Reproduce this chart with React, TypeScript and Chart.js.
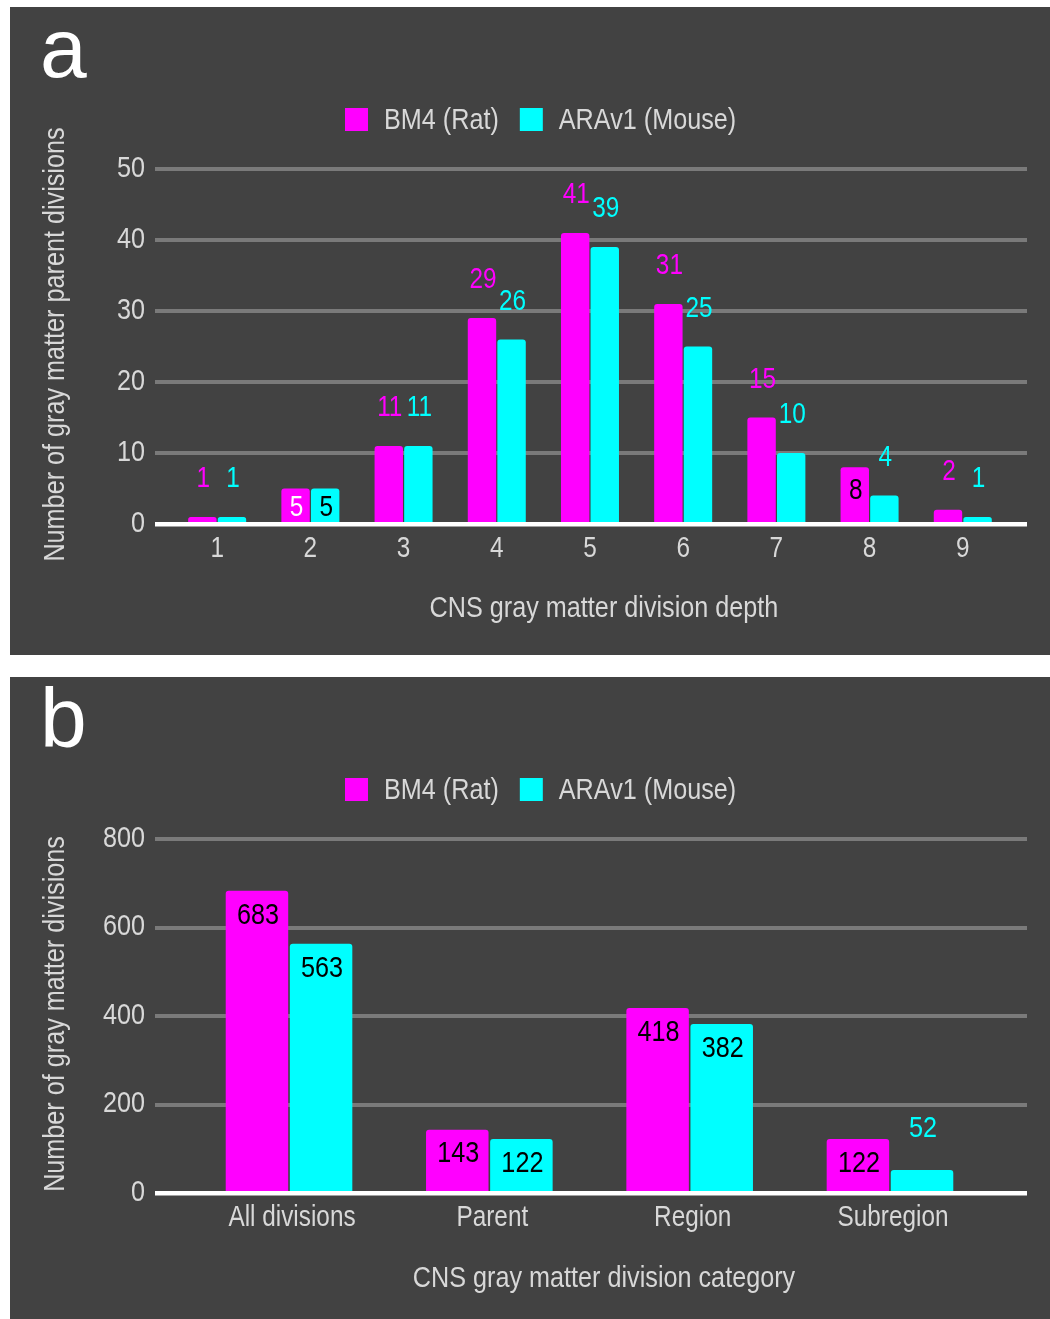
import React, { useEffect, useRef } from 'react';
import { Chart, registerables } from 'chart.js';

Chart.register(...registerables);

// ---------- data ----------
const seriesNames = ['BM4 (Rat)', 'ARAv1 (Mouse)'];
const seriesColors = ['#ff00ff', '#00ffff'];

const depthCategories = ['1', '2', '3', '4', '5', '6', '7', '8', '9'];
const depthRat = [1, 5, 11, 29, 41, 31, 15, 8, 2];
const depthMouse = [1, 5, 11, 26, 39, 25, 10, 4, 1];
const depthTicks = [0, 10, 20, 30, 40, 50];

const kindCategories = ['All divisions', 'Parent', 'Region', 'Subregion'];
const kindRat = [683, 143, 418, 122];
const kindMouse = [563, 122, 382, 52];
const kindTicks = [0, 200, 400, 600, 800];

// where each value label sits: above the bar, or inside it (dark / light text)
const depthRatLabelPos = ['above', 'inLight', 'above', 'above', 'above', 'above', 'above', 'inDark', 'above'];
const depthMouseLabelPos = ['above', 'inDark', 'above', 'above', 'above', 'above', 'above', 'above', 'above'];
const kindRatLabelPos = ['inDark', 'inDark', 'inDark', 'inDark'];
const kindMouseLabelPos = ['inDark', 'inDark', 'inDark', 'above'];

// ---------- styling ----------
const FONT = "'Liberation Sans', Arial, sans-serif";
const SQUEEZE = 0.84; // the original uses a condensed face
const TEXT = '#d8d8d8';
const GRID = '#7a7a7a';
const PANEL_BG = '#424242';
const W = 1040;

type PanelSpec = {
  letter: string;
  categories: string[];
  rat: number[];
  mouse: number[];
  ticks: number[];
  labelPos: string[][];
  yTitle: string;
  xTitle: string;
  height: number;
  top: number;
  bottom: number;
  xMin: number;
  xMax: number;
  catPct: number;
  barPct: number;
  labelSize: number;
  aboveGap: number;
  insideGap: number;
  xTickShift: number;
};

function narrowText(
  ctx: CanvasRenderingContext2D,
  text: string,
  x: number,
  y: number,
  size: number,
  align: CanvasTextAlign,
  color: string
) {
  ctx.save();
  ctx.font = `${size}px ${FONT}`;
  ctx.textAlign = align;
  ctx.textBaseline = 'alphabetic';
  ctx.fillStyle = color;
  ctx.translate(x, y);
  ctx.scale(SQUEEZE, 1);
  ctx.fillText(text, 0, 0);
  ctx.restore();
}

function narrowWidth(ctx: CanvasRenderingContext2D, text: string, size: number) {
  ctx.save();
  ctx.font = `${size}px ${FONT}`;
  const w = ctx.measureText(text).width * SQUEEZE;
  ctx.restore();
  return w;
}

function makeConfig(p: PanelSpec): any {
  const positions = p.categories.map((_, i) => i + 1);
  const decor = {
    id: 'decor',
    afterDatasetsDraw(chart: any) {
      const { ctx, chartArea } = chart;
      const y0 = chart.scales.y.getPixelForValue(0);
      ctx.save();
      ctx.fillStyle = '#ffffff';
      ctx.fillRect(chartArea.left, y0 - 2, chartArea.right - chartArea.left, 4.5);
      ctx.restore();
      const cap = p.labelSize * 0.358;
      chart.data.datasets.forEach((ds: any, di: number) => {
        const meta = chart.getDatasetMeta(di);
        meta.data.forEach((bar: any, i: number) => {
          const pos = p.labelPos[di][i];
          let cy: number;
          let color: string;
          if (pos === 'above') {
            cy = bar.y - p.aboveGap;
            color = seriesColors[di];
          } else {
            cy = Math.min(bar.y + p.insideGap, (bar.y + bar.base) / 2);
            color = pos === 'inLight' ? '#ffffff' : '#000000';
          }
          narrowText(ctx, String(ds.data[i]), bar.x + 1, cy + cap, p.labelSize, 'center', color);
        });
      });
    },
    afterDraw(chart: any) {
      const { ctx, chartArea } = chart;
      const xs = chart.scales.x;
      const ys = chart.scales.y;
      // tick labels
      ys.ticks.forEach((t: any) => {
        narrowText(ctx, String(t.value), chartArea.left - 10, ys.getPixelForValue(t.value) - 3 + 10.7, 30, 'right', TEXT);
      });
      xs.ticks.forEach((t: any) => {
        const label = p.categories[Math.round(t.value) - 1] ?? '';
        narrowText(ctx, label, xs.getPixelForValue(t.value) + p.xTickShift, chartArea.bottom + 32.5, 29, 'center', TEXT);
      });
      // panel letter
      ctx.save();
      ctx.fillStyle = '#ffffff';
      ctx.font = `84px ${FONT}`;
      ctx.textAlign = 'left';
      ctx.textBaseline = 'alphabetic';
      ctx.fillText(p.letter, 30, 70);
      ctx.restore();
      // legend
      let x = 335;
      chart.data.datasets.forEach((ds: any, di: number) => {
        ctx.save();
        ctx.fillStyle = seriesColors[di];
        ctx.fillRect(x, 101, 23, 23);
        ctx.restore();
        x += 23 + 16;
        narrowText(ctx, ds.label, x, 122, 30, 'left', TEXT);
        x += narrowWidth(ctx, ds.label, 30) + 21;
      });
      // x title
      narrowText(ctx, p.xTitle, (chartArea.left + chartArea.right) / 2 + 13, 610, 30, 'center', TEXT);
      // y title
      ctx.save();
      ctx.translate(53.5, (chartArea.top + chartArea.bottom) / 2 - 2);
      ctx.rotate(-Math.PI / 2);
      narrowText(ctx, p.yTitle, 0, 0, 30, 'center', TEXT);
      ctx.restore();
    },
  };

  return {
    type: 'bar',
    data: {
      labels: positions,
      datasets: [
        { label: seriesNames[0], data: p.rat, backgroundColor: seriesColors[0] },
        { label: seriesNames[1], data: p.mouse, backgroundColor: seriesColors[1] },
      ].map((d) => ({
        ...d,
        borderWidth: 0,
        borderRadius: { topLeft: 3, topRight: 3, bottomLeft: 0, bottomRight: 0 },
        borderSkipped: 'start',
        categoryPercentage: p.catPct,
        barPercentage: p.barPct,
      })),
    },
    options: {
      animation: false,
      responsive: false,
      devicePixelRatio: 1,
      layout: { padding: { left: 0, right: 23, top: p.top, bottom: 0 } },
      plugins: {
        legend: { display: false },
        tooltip: { enabled: false },
        title: { display: false },
      },
      scales: {
        x: {
          type: 'linear',
          offset: false,
          min: p.xMin,
          max: p.xMax,
          grid: { display: false, offset: false },
          border: { display: false },
          afterBuildTicks: (s: any) => {
            s.ticks = positions.map((v) => ({ value: v }));
          },
          afterFit: (s: any) => {
            s.height = p.height - p.bottom;
          },
          ticks: { display: false },
        },
        y: {
          type: 'linear',
          min: 0,
          max: p.ticks[p.ticks.length - 1],
          afterBuildTicks: (s: any) => {
            s.ticks = p.ticks.map((v) => ({ value: v }));
          },
          afterFit: (s: any) => {
            s.width = 145;
          },
          grid: {
            color: (c: any) => (c.tick && c.tick.value === 0 ? 'rgba(0,0,0,0)' : GRID),
            lineWidth: 4,
            drawTicks: false,
          },
          border: { display: false },
          ticks: { display: false },
        },
      },
    },
    plugins: [decor],
  };
}

function Panel({ spec, top }: { spec: PanelSpec; top: number }) {
  const ref = useRef<HTMLCanvasElement | null>(null);
  useEffect(() => {
    if (!ref.current) return;
    const chart = new Chart(ref.current, makeConfig(spec));
    return () => chart.destroy();
  }, [spec]);
  return (
    <div
      style={{
        position: 'absolute',
        left: 10,
        top,
        width: W,
        height: spec.height,
        background: PANEL_BG,
      }}
    >
      <canvas ref={ref} width={W} height={spec.height} style={{ display: 'block', width: W, height: spec.height }} />
    </div>
  );
}

const panelA: PanelSpec = {
  letter: 'a',
  categories: depthCategories,
  rat: depthRat,
  mouse: depthMouse,
  ticks: depthTicks,
  labelPos: [depthRatLabelPos, depthMouseLabelPos],
  yTitle: 'Number of gray matter parent divisions',
  xTitle: 'CNS gray matter division depth',
  height: 648,
  top: 162,
  bottom: 517,
  xMin: 0.333,
  xMax: 9.689,
  catPct: 0.635,
  barPct: 0.96,
  labelSize: 29,
  aboveGap: 40,
  insideGap: 21,
  xTickShift: 0,
};

const panelB: PanelSpec = {
  letter: 'b',
  categories: kindCategories,
  rat: kindRat,
  mouse: kindMouse,
  ticks: kindTicks,
  labelPos: [kindRatLabelPos, kindMouseLabelPos],
  yTitle: 'Number of gray matter divisions',
  xTitle: 'CNS gray matter division category',
  height: 642,
  top: 162,
  bottom: 516,
  xMin: 0.331,
  xMax: 4.684,
  catPct: 0.64,
  barPct: 0.975,
  labelSize: 30,
  aboveGap: 44,
  insideGap: 22,
  xTickShift: 3,
};

export default function App() {
  return (
    <div style={{ position: 'absolute', left: 0, top: 0, width: 1050, height: 1319, background: '#ffffff', overflow: 'hidden' }}>
      <Panel spec={panelA} top={7} />
      <Panel spec={panelB} top={677} />
    </div>
  );
}
